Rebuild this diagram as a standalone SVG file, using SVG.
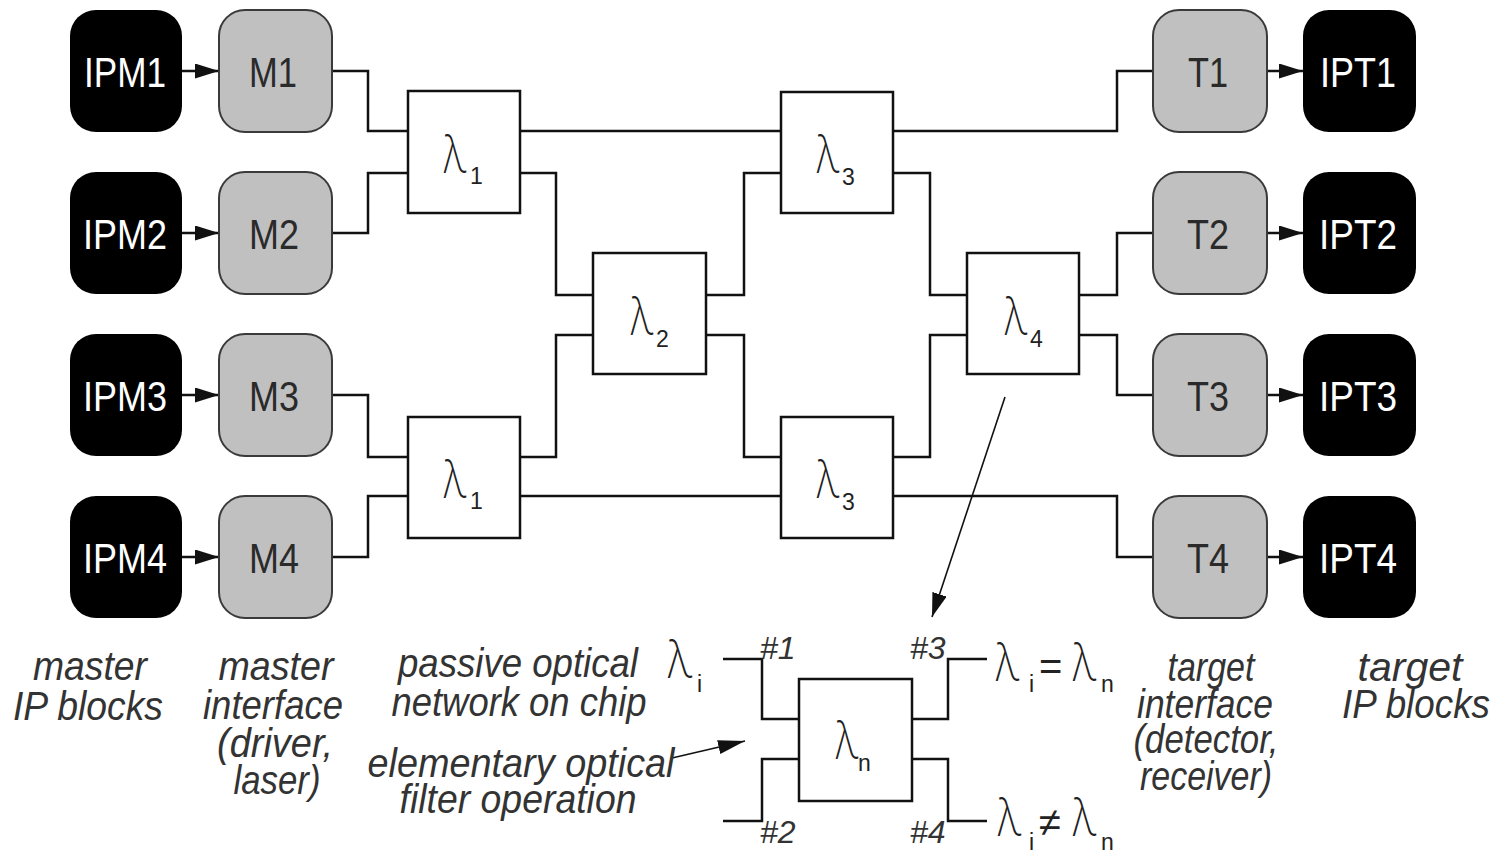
<svg xmlns="http://www.w3.org/2000/svg" width="1508" height="852" viewBox="0 0 1508 852">
<defs>
<marker id="ah" markerUnits="userSpaceOnUse" markerWidth="26" markerHeight="16" refX="24" refY="7.5" orient="auto">
<path d="M0,0 L24,7.5 L0,15 Z" fill="#111"/>
</marker>
<marker id="ah2" markerUnits="userSpaceOnUse" markerWidth="30" markerHeight="16" refX="27" refY="7" orient="auto">
<path d="M0,0 L27,7 L0,14 Z" fill="#111"/>
</marker>
</defs>
<style>
.ip{fill:#000;}
.ifc{fill:#c0c0c0;stroke:#3a3a3a;stroke-width:2;}
.flt{fill:#fff;stroke:#111;stroke-width:2.5;}
.wl{font-family:"Liberation Sans",Arial,sans-serif;font-size:42px;fill:#fff;text-anchor:middle;}
.dl{font-family:"Liberation Sans",Arial,sans-serif;font-size:42px;fill:#2a2a2a;text-anchor:middle;}
.lam{font-family:Inter,"Liberation Sans",sans-serif;font-weight:200;font-size:54px;fill:#222;}
.sub{font-family:"Liberation Sans",Arial,sans-serif;font-weight:400;font-size:23px;fill:#222;}
.cap{font-family:"Liberation Sans",Arial,sans-serif;font-style:italic;font-size:40px;fill:#333;text-anchor:middle;}
.num{font-family:"Liberation Sans",Arial,sans-serif;font-style:italic;font-size:32px;fill:#333;}
.sym{font-family:"Liberation Sans",Arial,sans-serif;font-weight:400;font-size:40px;fill:#222;}
.c{fill:none;stroke:#111;stroke-width:2.5;}
.th{fill:none;stroke:#111;stroke-width:1.6;}
</style>
<rect width="1508" height="852" fill="#fff"/>

<g id="connectors">
<polyline class="c" points="332,71 368,71 368,131 408,131"/>
<polyline class="c" points="332,233 368,233 368,173 408,173"/>
<polyline class="c" points="332,395 368,395 368,457 408,457"/>
<polyline class="c" points="332,557 368,557 368,496 408,496"/>
<polyline class="c" points="520,131 781,131"/>
<polyline class="c" points="520,173 556,173 556,295 593,295"/>
<polyline class="c" points="520,457 556,457 556,335 593,335"/>
<polyline class="c" points="520,496 781,496"/>
<polyline class="c" points="706,295 744,295 744,173 781,173"/>
<polyline class="c" points="706,335 744,335 744,457 781,457"/>
<polyline class="c" points="893,131 1117,131 1117,71 1153,71"/>
<polyline class="c" points="893,173 930,173 930,295 967,295"/>
<polyline class="c" points="893,457 930,457 930,335 967,335"/>
<polyline class="c" points="893,496 1117,496 1117,557 1153,557"/>
<polyline class="c" points="1079,295 1117,295 1117,233 1153,233"/>
<polyline class="c" points="1079,335 1117,335 1117,395 1153,395"/>
<line class="c" x1="182" y1="71" x2="219" y2="71" marker-end="url(#ah)"/>
<line class="c" x1="182" y1="233" x2="219" y2="233" marker-end="url(#ah)"/>
<line class="c" x1="182" y1="395" x2="219" y2="395" marker-end="url(#ah)"/>
<line class="c" x1="182" y1="557" x2="219" y2="557" marker-end="url(#ah)"/>
<line class="c" x1="1267" y1="71" x2="1303" y2="71" marker-end="url(#ah)"/>
<line class="c" x1="1267" y1="233" x2="1303" y2="233" marker-end="url(#ah)"/>
<line class="c" x1="1267" y1="395" x2="1303" y2="395" marker-end="url(#ah)"/>
<line class="c" x1="1267" y1="557" x2="1303" y2="557" marker-end="url(#ah)"/>
<line class="th" x1="1005" y1="397" x2="932" y2="617" marker-end="url(#ah)"/>
<line class="th" x1="672" y1="758" x2="745" y2="741" marker-end="url(#ah2)"/>
<polyline class="c" points="723,659 762,659 762,719 799,719"/>
<polyline class="c" points="723,821 762,821 762,759 799,759"/>
<polyline class="c" points="912,719 948,719 948,659 987,659"/>
<polyline class="c" points="912,759 948,759 948,821 987,821"/>
</g>

<g id="IPM1"><rect class="ip" x="70" y="10" width="112" height="122" rx="26"/><text class="wl" x="125" y="87" textLength="82" lengthAdjust="spacingAndGlyphs">IPM1</text></g>
<g id="IPM2"><rect class="ip" x="70" y="172" width="112" height="122" rx="26"/><text class="wl" x="125" y="249" textLength="84" lengthAdjust="spacingAndGlyphs">IPM2</text></g>
<g id="IPM3"><rect class="ip" x="70" y="334" width="112" height="122" rx="26"/><text class="wl" x="125" y="411" textLength="84" lengthAdjust="spacingAndGlyphs">IPM3</text></g>
<g id="IPM4"><rect class="ip" x="70" y="496" width="112" height="122" rx="26"/><text class="wl" x="125" y="573" textLength="84" lengthAdjust="spacingAndGlyphs">IPM4</text></g>

<g id="M1"><rect class="ifc" x="219" y="10" width="113" height="122" rx="26"/><text class="dl" x="273" y="87" textLength="48" lengthAdjust="spacingAndGlyphs">M1</text></g>
<g id="M2"><rect class="ifc" x="219" y="172" width="113" height="122" rx="26"/><text class="dl" x="274" y="249" textLength="50" lengthAdjust="spacingAndGlyphs">M2</text></g>
<g id="M3"><rect class="ifc" x="219" y="334" width="113" height="122" rx="26"/><text class="dl" x="274" y="411" textLength="50" lengthAdjust="spacingAndGlyphs">M3</text></g>
<g id="M4"><rect class="ifc" x="219" y="496" width="113" height="122" rx="26"/><text class="dl" x="274" y="573" textLength="50" lengthAdjust="spacingAndGlyphs">M4</text></g>

<g id="T1"><rect class="ifc" x="1153" y="10" width="114" height="122" rx="26"/><text class="dl" x="1208" y="87" textLength="40" lengthAdjust="spacingAndGlyphs">T1</text></g>
<g id="T2"><rect class="ifc" x="1153" y="172" width="114" height="122" rx="26"/><text class="dl" x="1208" y="249" textLength="42" lengthAdjust="spacingAndGlyphs">T2</text></g>
<g id="T3"><rect class="ifc" x="1153" y="334" width="114" height="122" rx="26"/><text class="dl" x="1208" y="411" textLength="42" lengthAdjust="spacingAndGlyphs">T3</text></g>
<g id="T4"><rect class="ifc" x="1153" y="496" width="114" height="122" rx="26"/><text class="dl" x="1208" y="573" textLength="42" lengthAdjust="spacingAndGlyphs">T4</text></g>

<g id="IPT1"><rect class="ip" x="1303" y="10" width="113" height="122" rx="26"/><text class="wl" x="1358" y="87" textLength="76" lengthAdjust="spacingAndGlyphs">IPT1</text></g>
<g id="IPT2"><rect class="ip" x="1303" y="172" width="113" height="122" rx="26"/><text class="wl" x="1358" y="249" textLength="78" lengthAdjust="spacingAndGlyphs">IPT2</text></g>
<g id="IPT3"><rect class="ip" x="1303" y="334" width="113" height="122" rx="26"/><text class="wl" x="1358" y="411" textLength="78" lengthAdjust="spacingAndGlyphs">IPT3</text></g>
<g id="IPT4"><rect class="ip" x="1303" y="496" width="113" height="122" rx="26"/><text class="wl" x="1358" y="573" textLength="78" lengthAdjust="spacingAndGlyphs">IPT4</text></g>

<g id="L1a"><rect class="flt" x="408" y="91" width="112" height="122"/><text class="lam"><tspan x="442" y="173" textLength="25" lengthAdjust="spacingAndGlyphs">λ</tspan><tspan class="sub" x="470" y="184">1</tspan></text></g>
<g id="L1b"><rect class="flt" x="408" y="417" width="112" height="121"/><text class="lam"><tspan x="442" y="498" textLength="25" lengthAdjust="spacingAndGlyphs">λ</tspan><tspan class="sub" x="470" y="509">1</tspan></text></g>
<g id="L2"><rect class="flt" x="593" y="253" width="113" height="121"/><text class="lam"><tspan x="629" y="335" textLength="25" lengthAdjust="spacingAndGlyphs">λ</tspan><tspan class="sub" x="656" y="347">2</tspan></text></g>
<g id="L3a"><rect class="flt" x="781" y="92" width="112" height="121"/><text class="lam"><tspan x="815" y="173" textLength="25" lengthAdjust="spacingAndGlyphs">λ</tspan><tspan class="sub" x="842" y="185">3</tspan></text></g>
<g id="L3b"><rect class="flt" x="781" y="417" width="112" height="121"/><text class="lam"><tspan x="815" y="498" textLength="25" lengthAdjust="spacingAndGlyphs">λ</tspan><tspan class="sub" x="842" y="510">3</tspan></text></g>
<g id="L4"><rect class="flt" x="967" y="253" width="112" height="121"/><text class="lam"><tspan x="1003" y="335" textLength="25" lengthAdjust="spacingAndGlyphs">λ</tspan><tspan class="sub" x="1030" y="347">4</tspan></text></g>
<g id="Ln"><rect class="flt" x="799" y="679" width="113" height="122"/><text class="lam"><tspan x="834" y="759" textLength="25" lengthAdjust="spacingAndGlyphs">λ</tspan><tspan class="sub" x="858" y="771">n</tspan></text></g>

<g id="filter-labels">
<text class="lam"><tspan x="666" y="678" textLength="27" lengthAdjust="spacingAndGlyphs">λ</tspan><tspan class="sub" x="697" y="692">i</tspan></text>
<text class="num" x="760" y="659">#1</text>
<text class="num" x="760" y="843">#2</text>
<text class="num" x="910" y="659">#3</text>
<text class="num" x="910" y="843">#4</text>
<text class="lam"><tspan x="994" y="681" textLength="26" lengthAdjust="spacingAndGlyphs">λ</tspan><tspan class="sub" x="1029" y="692">i</tspan><tspan class="sym" x="1039" y="680">=</tspan><tspan x="1071" y="681" textLength="26" lengthAdjust="spacingAndGlyphs">λ</tspan><tspan class="sub" x="1101" y="692">n</tspan></text>
<text class="lam"><tspan x="996" y="836" textLength="26" lengthAdjust="spacingAndGlyphs">λ</tspan><tspan class="sub" x="1029" y="850">i</tspan><tspan class="sym" x="1039" y="836">≠</tspan><tspan x="1071" y="836" textLength="26" lengthAdjust="spacingAndGlyphs">λ</tspan><tspan class="sub" x="1101" y="850">n</tspan></text>
</g>

<g id="captions">
<text class="cap"><tspan x="90" y="680" textLength="114" lengthAdjust="spacingAndGlyphs">master</tspan><tspan x="88" y="720" textLength="150" lengthAdjust="spacingAndGlyphs">IP blocks</tspan></text>
<text class="cap"><tspan x="276" y="680" textLength="115" lengthAdjust="spacingAndGlyphs">master</tspan><tspan x="273" y="719" textLength="140" lengthAdjust="spacingAndGlyphs">interface</tspan><tspan x="275" y="757" textLength="116" lengthAdjust="spacingAndGlyphs">(driver,</tspan><tspan x="277" y="794" textLength="87" lengthAdjust="spacingAndGlyphs">laser)</tspan></text>
<text class="cap"><tspan x="518" y="677" textLength="240" lengthAdjust="spacingAndGlyphs">passive optical</tspan><tspan x="519" y="716" textLength="255" lengthAdjust="spacingAndGlyphs">network on chip</tspan></text>
<text class="cap"><tspan x="521" y="777" textLength="307" lengthAdjust="spacingAndGlyphs">elementary optical</tspan><tspan x="518" y="813" textLength="237" lengthAdjust="spacingAndGlyphs">filter operation</tspan></text>
<text class="cap"><tspan x="1211" y="681" textLength="87" lengthAdjust="spacingAndGlyphs">target</tspan><tspan x="1205" y="718" textLength="136" lengthAdjust="spacingAndGlyphs">interface</tspan><tspan x="1206" y="753" textLength="145" lengthAdjust="spacingAndGlyphs">(detector,</tspan><tspan x="1206" y="790" textLength="132" lengthAdjust="spacingAndGlyphs">receiver)</tspan></text>
<text class="cap"><tspan x="1410" y="681" textLength="105" lengthAdjust="spacingAndGlyphs">target</tspan><tspan x="1416" y="718" textLength="148" lengthAdjust="spacingAndGlyphs">IP blocks</tspan></text>
</g>
</svg>
